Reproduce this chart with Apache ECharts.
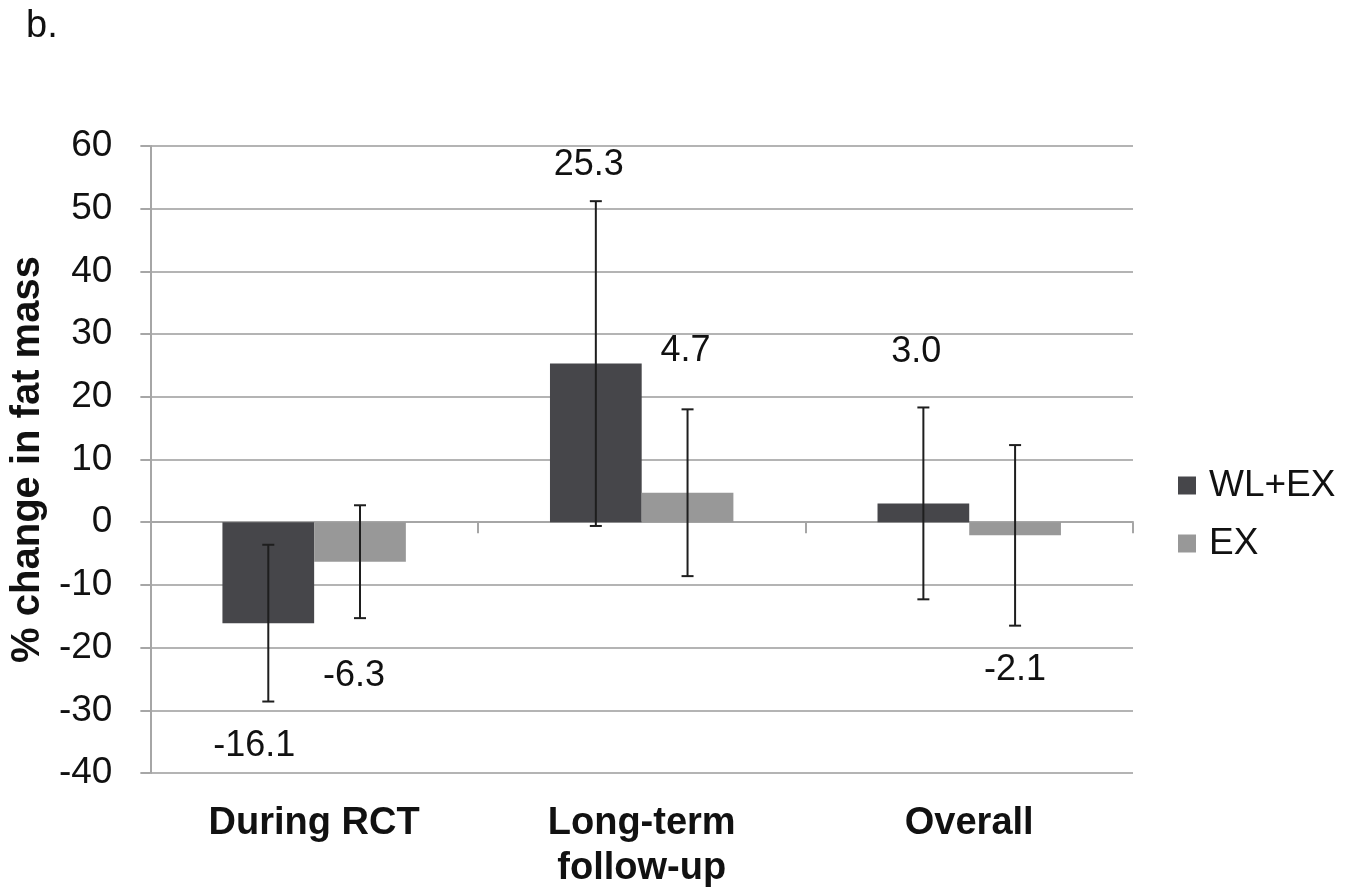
<!DOCTYPE html>
<html>
<head>
<meta charset="utf-8">
<script src="https://cdn.jsdelivr.net/npm/echarts@6/dist/echarts.min.js"></script>
<style>
  html, body { margin: 0; padding: 0; background: #fff; }
  #chart { width: 1363px; height: 895px; }
</style>
</head>
<body>
<div id="chart"></div>
<script>
// ---- data ----
const categories = ['During RCT', 'Long-term\nfollow-up', 'Overall'];
const seriesNames = ['WL+EX', 'EX'];
const wlexValues = [-16.1, 25.3, 3.0];
const exValues = [-6.3, 4.7, -2.1];
const wlexErrors = [12.5, 25.9, 15.3];
const exErrors = [9.0, 13.3, 14.4];
const yMin = -40, yMax = 60, yStep = 10;
const panelLabel = 'b.';
const yAxisTitle = '% change in fat mass';

// ---- style ----
const FONT = 'Arial, "Liberation Sans", sans-serif';
const colors = ['#46464a', '#989898'];
const catGap = 0.44;
// pixel offsets of value labels from the error-bar end (dx, dy)
const wlexLabelOffsets = [[-14, 45], [-7, 36], [-7, 55]];
const exLabelOffsets = [[-6, 58], [-2, 58], [0, 44]];

function errData(values, errors, side, offsets) {
  return values.map((v, i) => [i, v, errors[i], side, offsets[i][0], offsets[i][1]]);
}

function renderErr(params, api) {
  const idx = api.value(0), val = api.value(1), err = api.value(2), side = api.value(3);
  const dx = api.value(4), dy = api.value(5);
  const catW = api.size([1, 0])[0];
  const bw = catW * (1 - catGap) / 2;
  const cx = api.coord([idx, 0])[0] + side * bw / 2;
  const yTop = api.coord([idx, val + err])[1];
  const yBot = api.coord([idx, val - err])[1];
  const cap = 6;
  const ls = { stroke: '#1e1e1e', lineWidth: 2 };
  const ly = val >= 0 ? yTop - dy : yBot + dy;
  return {
    type: 'group',
    children: [
      { type: 'line', shape: { x1: cx, y1: yTop, x2: cx, y2: yBot }, style: ls },
      { type: 'line', shape: { x1: cx - cap, y1: yTop, x2: cx + cap, y2: yTop }, style: ls },
      { type: 'line', shape: { x1: cx - cap, y1: yBot, x2: cx + cap, y2: yBot }, style: ls },
      { type: 'text', x: cx + dx, y: ly,
        style: { text: val.toFixed(1), fontSize: 36, fontFamily: FONT, fill: '#111',
                 align: 'center', verticalAlign: 'middle' } }
    ]
  };
}

const chart = echarts.init(document.getElementById('chart'));
chart.setOption({
  animation: false,
  backgroundColor: '#fff',
  textStyle: { fontFamily: FONT },
  graphic: [{
    type: 'text', left: 26, top: 8,
    style: { text: panelLabel, fontSize: 38, fontFamily: FONT, fill: '#111' }
  }],
  grid: { left: 149, right: 230, top: 146, bottom: 122 },
  legend: {
    orient: 'vertical', left: 1173, top: 462,
    data: seriesNames,
    icon: 'rect', itemWidth: 18, itemHeight: 18, itemGap: 21,
    textStyle: { fontSize: 37, lineHeight: 37, color: '#111', fontFamily: FONT, padding: [0, 0, 0, 8] }
  },
  xAxis: [{
    type: 'category', data: categories,
    axisLine: { onZero: true, lineStyle: { color: '#a6a6a6', width: 2 } },
    axisTick: { show: true, length: 11, lineStyle: { color: '#a6a6a6', width: 2 } },
    axisLabel: { show: false },
    splitLine: { show: false }
  }, {
    type: 'category', data: categories, position: 'bottom',
    axisLine: { show: false, onZero: false },
    axisTick: { show: false },
    axisLabel: { show: true, fontSize: 38, fontWeight: 'bold', color: '#111', fontFamily: FONT,
                 lineHeight: 45, margin: 28 }
  }],
  yAxis: {
    type: 'value', min: yMin, max: yMax, interval: yStep,
    name: yAxisTitle, nameLocation: 'middle', nameGap: 100,
    nameTextStyle: { fontSize: 40, fontWeight: 'bold', color: '#111', fontFamily: FONT },
    axisLine: { show: true, lineStyle: { color: '#a6a6a6', width: 2 } },
    axisTick: { show: true, length: 10, lineStyle: { color: '#a6a6a6', width: 2 } },
    axisLabel: { fontSize: 37, color: '#111', fontFamily: FONT, margin: 38 },
    splitLine: { show: true, lineStyle: { color: '#b4b4b4', width: 2 } }
  },
  series: [{
    name: seriesNames[0], type: 'bar', data: wlexValues, xAxisIndex: 0,
    barGap: '0%', barCategoryGap: (catGap * 100) + '%',
    itemStyle: { color: colors[0] }
  }, {
    name: seriesNames[1], type: 'bar', data: exValues, xAxisIndex: 0,
    barGap: '0%', barCategoryGap: (catGap * 100) + '%',
    itemStyle: { color: colors[1] }
  }, {
    type: 'custom', xAxisIndex: 0, z: 5, renderItem: renderErr,
    data: errData(wlexValues, wlexErrors, -1, wlexLabelOffsets),
    encode: { x: 0, y: [1] }
  }, {
    type: 'custom', xAxisIndex: 0, z: 5, renderItem: renderErr,
    data: errData(exValues, exErrors, 1, exLabelOffsets),
    encode: { x: 0, y: [1] }
  }]
});
</script>
</body>
</html>
